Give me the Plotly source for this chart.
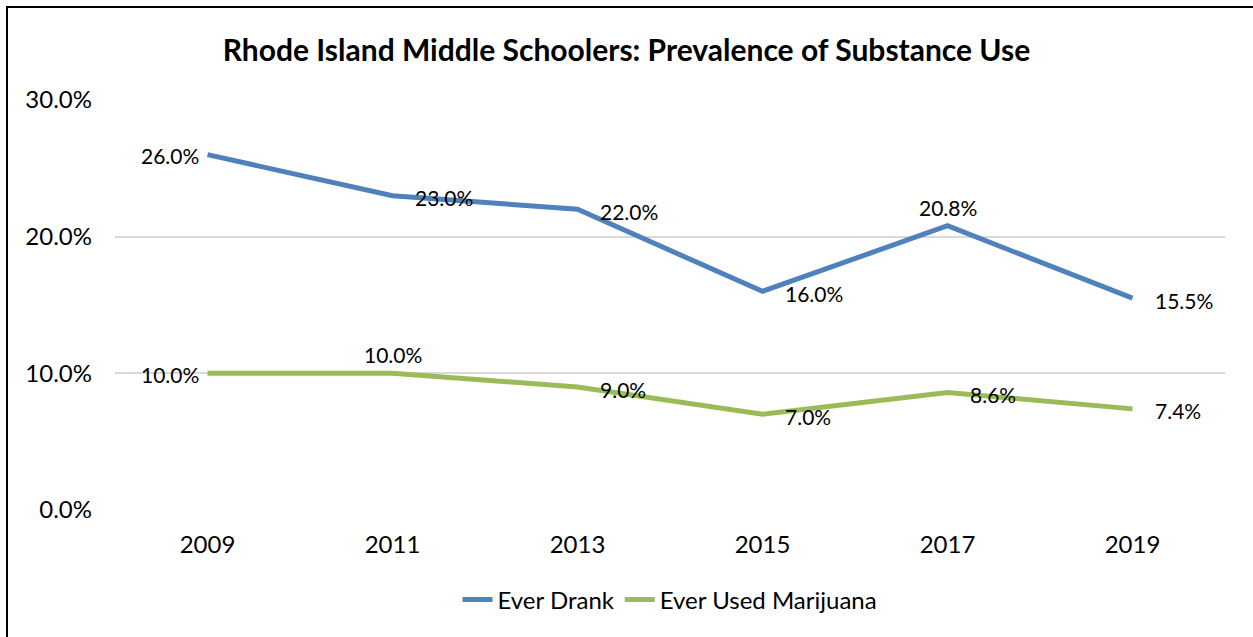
import plotly.graph_objects as go

years = ["2009", "2011", "2013", "2015", "2017", "2019"]
ever_drank = [26.0, 23.0, 22.0, 16.0, 20.8, 15.5]
ever_marijuana = [10.0, 10.0, 9.0, 7.0, 8.6, 7.4]
drank_label_pos = ["left", "right", "right", "right", "above", "right"]
marijuana_label_pos = ["left", "above", "right", "right", "right", "right"]
y_ticks = [0, 10, 20, 30]
PCT = chr(37)
y_tick_text = [f"{v:.1f}" + PCT for v in y_ticks]

FONT = "Lato"
BLUE = "#4F81BD"
GREEN = "#9BBB59"

fig = go.Figure()
fig.add_trace(go.Scatter(x=years, y=ever_drank, mode="lines", name="Ever Drank",
                         line=dict(color=BLUE, width=5)))
fig.add_trace(go.Scatter(x=years, y=ever_marijuana, mode="lines", name="Ever Used Marijuana",
                         line=dict(color=GREEN, width=5)))

pos_style = {
    "right": dict(xanchor="left", yanchor="middle", xshift=20, yshift=-2),
    "left": dict(xanchor="right", yanchor="middle", xshift=-7, yshift=-1),
    "above": dict(xanchor="center", yanchor="bottom", xshift=0, yshift=4),
}
annotations = []
for vals, poss in ((ever_drank, drank_label_pos), (ever_marijuana, marijuana_label_pos)):
    for i, (yv, p) in enumerate(zip(vals, poss)):
        st = pos_style[p]
        annotations.append(go.layout.Annotation(
            x=i, y=yv, xref="x", yref="y",
            text=f"{yv:.1f}" + PCT, showarrow=False,
            font=dict(family=FONT, size=21, color="#000000"),
            xanchor=st["xanchor"], yanchor=st["yanchor"],
            xshift=st["xshift"], yshift=st["yshift"]))

# chart border
L, R, T, B = 115, 28, 100, 127
W, H = 1253, 637
pw, ph = W - L - R, H - T - B
fig.add_shape(type="rect", xref="paper", yref="paper",
              x0=(7 - L) / pw, x1=(W + 20 - L) / pw,
              y0=-(B + 20) / ph, y1=(H - B - 7) / ph,
              line=dict(color="#000000", width=2), fillcolor="rgba(0,0,0,0)", layer="above")

fig.update_layout(
    width=W, height=H,
    margin=dict(l=L, r=R, t=T, b=B),
    paper_bgcolor="white", plot_bgcolor="white",
    title=dict(text="<b>Rhode Island Middle Schoolers: Prevalence of Substance Use</b>",
               x=0.5, xanchor="center", y=1 - 50 / H, yanchor="middle",
               font=dict(family=FONT, size=30, color="#000000")),
    xaxis=dict(type="category", range=[-0.5, 5.5], showgrid=False, showline=False,
               zeroline=False, ticks="", tickfont=dict(family=FONT, size=24, color="#000000"),
               ticklabelstandoff=18),
    yaxis=dict(range=[0, 30], tickvals=y_ticks, ticktext=y_tick_text,
               showgrid=True, gridcolor="#D9D9D9", gridwidth=1.5, zeroline=False,
               showline=False, ticks="", tickfont=dict(family=FONT, size=24, color="#000000"),
               ticklabelstandoff=22),
    legend=dict(orientation="h", x=0.5, xanchor="center", y=-(600 - (H - B)) / ph,
                yanchor="middle", font=dict(family=FONT, size=24, color="#000000"),
                traceorder="normal"),
    annotations=annotations,
    font=dict(family=FONT),
)

fig.write_html("out.html", config={"displayModeBar": False},
               post_script="document.body.style.margin='0';")
